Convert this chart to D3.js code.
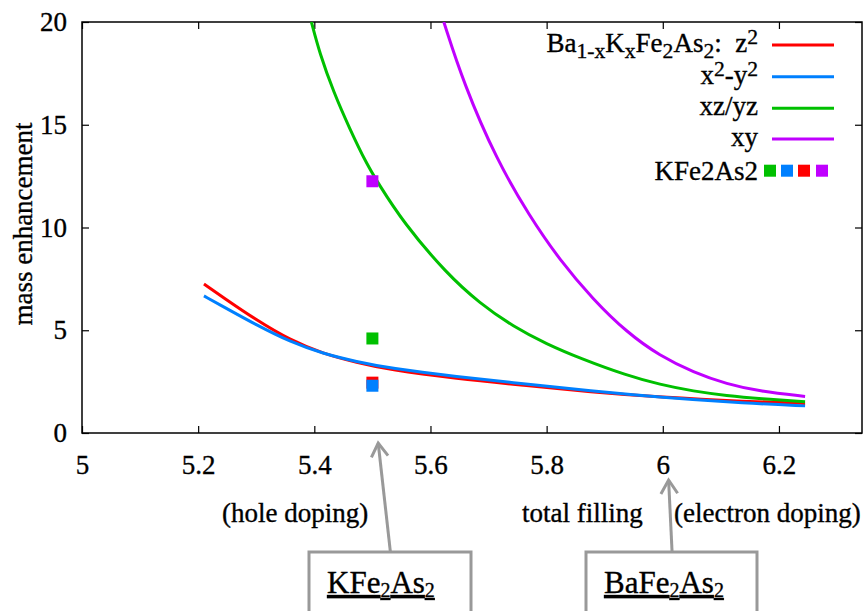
<!DOCTYPE html>
<html>
<head>
<meta charset="utf-8">
<script src="https://cdn.jsdelivr.net/npm/d3@7"></script>
<style>
  body { margin: 0; background: #fff; }
</style>
</head>
<body>
<svg id="chart" width="866" height="611"></svg>
<script>
// Axis ticks
const fillingTicks = [5, 5.2, 5.4, 5.6, 5.8, 6, 6.2];
const massTicks = [0, 5, 10, 15, 20];

// Ba(1-x)K(x)Fe2As2 orbital mass enhancement vs total filling
const fillingEg = [5.21, 5.243, 5.30, 5.358, 5.415, 5.473, 5.53, 5.645, 5.76, 5.875, 5.995, 6.145, 6.245];
const massZ2    = [7.25, 6.60, 5.50, 4.53, 3.86, 3.43, 3.07, 2.65, 2.32, 2.00, 1.74, 1.53, 1.44];
const massX2Y2  = [6.67, 6.15, 5.26, 4.44, 3.86, 3.47, 3.15, 2.74, 2.40, 2.05, 1.74, 1.45, 1.32];

const fillingXZ = [5.395, 5.409, 5.433, 5.461, 5.490, 5.509, 5.553, 5.628, 5.685, 5.743, 5.80, 5.858, 5.938, 5.995, 6.053, 6.11, 6.168, 6.245];
const massXZ    = [20, 18.5, 16.6, 14.8, 13.1, 12.2, 10.25, 7.75, 6.31, 5.17, 4.33, 3.63, 2.80, 2.36, 2.03, 1.82, 1.67, 1.52];

const fillingXY = [5.623, 5.657, 5.714, 5.771, 5.823, 5.880, 5.938, 5.995, 6.053, 6.110, 6.168, 6.245];
const massXY    = [20, 17.02, 13.28, 10.53, 8.4, 6.5, 4.9, 3.75, 2.95, 2.38, 2.02, 1.78];

// KFe2As2 (filling 5.5) per orbital, drawn in this order
const kfeFilling = 5.5;
const kfeOrbitals = ["xy", "xz/yz", "z2", "x2-y2"];
const kfeMass = [12.25, 4.6, 2.45, 2.3];

const orbitalColor = { "z2": "#ff0000", "x2-y2": "#0080ff", "xz/yz": "#00c000", "xy": "#c000ff" };

const SERIF = "'Liberation Serif', 'Tinos', 'Times New Roman', 'DejaVu Serif', serif";
const FS = 27;

const svg = d3.select("#chart");
const plot = { left: 82, right: 862, top: 22, bottom: 433 };

const x = d3.scaleLinear().domain([5, 6.343]).range([plot.left, plot.right]);
const y = d3.scaleLinear().domain([0, 20]).range([plot.bottom, plot.top]);

svg.append("defs").append("clipPath").attr("id", "plotClip")
  .append("rect")
  .attr("x", plot.left).attr("y", plot.top)
  .attr("width", plot.right - plot.left).attr("height", plot.bottom - plot.top);

function inkText(sel) {
  return sel.attr("fill", "#000").attr("stroke", "#000").attr("stroke-width", 0.35);
}

// Axes with inward ticks on all four sides
const fmt = d3.format("");
const bottomAxis = svg.append("g").attr("transform", `translate(0,${plot.bottom})`)
  .call(d3.axisBottom(x).tickValues(fillingTicks).tickFormat(fmt).tickSize(-7).tickPadding(22));
const topAxis = svg.append("g").attr("transform", `translate(0,${plot.top})`)
  .call(d3.axisTop(x).tickValues(fillingTicks).tickFormat("").tickSize(-7));
const leftAxis = svg.append("g").attr("transform", `translate(${plot.left},0)`)
  .call(d3.axisLeft(y).tickValues(massTicks).tickFormat(fmt).tickSize(-7).tickPadding(15));
const rightAxis = svg.append("g").attr("transform", `translate(${plot.right},0)`)
  .call(d3.axisRight(y).tickValues(massTicks).tickFormat("").tickSize(-7));

[bottomAxis, topAxis, leftAxis, rightAxis].forEach(g => {
  g.select(".domain").remove();
  g.attr("font-family", null).attr("font-size", null);
  g.selectAll(".tick line").attr("stroke", "#000").attr("stroke-width", 1.2);
  inkText(g.selectAll("text").style("font-family", SERIF).style("font-size", FS + "px"));
});

svg.append("rect")
  .attr("x", plot.left).attr("y", plot.top)
  .attr("width", plot.right - plot.left).attr("height", plot.bottom - plot.top)
  .attr("fill", "none").attr("stroke", "#000").attr("stroke-width", 1.5);

// Curves
const series = [
  { key: "z2",    xs: fillingEg, ys: massZ2 },
  { key: "x2-y2", xs: fillingEg, ys: massX2Y2 },
  { key: "xz/yz", xs: fillingXZ, ys: massXZ },
  { key: "xy",    xs: fillingXY, ys: massXY }
];
const line = d3.line().x(d => x(d[0])).y(d => y(d[1])).curve(d3.curveBasis);
const curves = svg.append("g").attr("clip-path", "url(#plotClip)");
series.forEach(s => {
  curves.append("path")
    .datum(s.xs.map((v, i) => [v, s.ys[i]]))
    .attr("d", line)
    .attr("fill", "none")
    .attr("stroke", orbitalColor[s.key])
    .attr("stroke-width", 3);
});

// KFe2As2 points
const sq = 12;
curves.selectAll("rect.kfe")
  .data(kfeOrbitals.map((o, i) => ({ o, v: kfeMass[i] })))
  .join("rect")
  .attr("class", "kfe")
  .attr("x", x(kfeFilling) - sq / 2)
  .attr("y", d => y(d.v) - sq / 2)
  .attr("width", sq).attr("height", sq)
  .attr("fill", d => orbitalColor[d.o]);

// Text helper: serif label
function label(parent, px, py, size, anchor) {
  return inkText(parent.append("text")
    .attr("x", px).attr("y", py)
    .attr("text-anchor", anchor || "start")
    .style("font-family", SERIF)
    .style("font-size", size + "px"));
}

function addRich(t, parts, size) {
  parts.forEach(p => {
    const s = t.append("tspan").text(p.t);
    if (p.sub) s.attr("baseline-shift", "-25%").style("font-size", (size * 0.8) + "px");
    if (p.sup) s.attr("baseline-shift", "35%").style("font-size", (size * 0.8) + "px");
  });
}

// Legend
const legend = svg.append("g");
const legendTextX = 758;
const legendLineX = [772, 834];
const legendRowY = [45, 76.7, 108.3, 139, 170.7];
const legendKeys = ["z2", "x2-y2", "xz/yz", "xy"];
const legendParts = [
  [{ t: "Ba" }, { t: "1-x", sub: true }, { t: "K" }, { t: "x", sub: true }, { t: "Fe" }, { t: "2", sub: true },
   { t: "As" }, { t: "2", sub: true }, { t: ":\u00a0\u00a0z" }, { t: "2", sup: true }],
  [{ t: "x" }, { t: "2", sup: true }, { t: "-y" }, { t: "2", sup: true }],
  [{ t: "xz/yz" }],
  [{ t: "xy" }]
];
legendKeys.forEach((k, i) => {
  const t = label(legend, legendTextX, legendRowY[i] + 7, FS, "end");
  addRich(t, legendParts[i], FS);
  legend.append("line")
    .attr("x1", legendLineX[0]).attr("x2", legendLineX[1])
    .attr("y1", legendRowY[i]).attr("y2", legendRowY[i])
    .attr("stroke", orbitalColor[k]).attr("stroke-width", 3);
});
label(legend, legendTextX, legendRowY[4] + 9, FS, "end").text("KFe2As2");
const legendSquareX = [770, 787, 804, 822];
["xz/yz", "x2-y2", "z2", "xy"].forEach((k, i) => {
  legend.append("rect")
    .attr("x", legendSquareX[i] - sq / 2).attr("y", legendRowY[4] - sq / 2)
    .attr("width", sq).attr("height", sq)
    .attr("fill", orbitalColor[k]);
});

// Axis title
label(svg, 0, 0, 27, "middle")
  .attr("transform", "translate(32,224) rotate(-90)")
  .text("mass enhancement");

// Doping annotations below the axis
label(svg, 222, 522, FS).text("(hole doping)");
label(svg, 522, 522, FS).text("total filling");
label(svg, 674, 522, FS).text("(electron doping)");

// Compound boxes with arrows pointing at their filling
const compounds = [
  { name: [{ t: "KFe" }, { t: "2", sub: true }, { t: "As" }, { t: "2", sub: true }],
    tip: 5.51, base: 5.531, tipY: 443, box: [309, 471] },
  { name: [{ t: "BaFe" }, { t: "2", sub: true }, { t: "As" }, { t: "2", sub: true }],
    tip: 6.01, base: 6.016, tipY: 480, box: [586, 757] }
];
const boxTop = 552;
compounds.forEach(c => {
  const g = svg.append("g");
  g.append("rect")
    .attr("x", c.box[0]).attr("y", boxTop)
    .attr("width", c.box[1] - c.box[0]).attr("height", 80)
    .attr("fill", "#fff").attr("stroke", "#999").attr("stroke-width", 3);
  const x0 = x(c.base), y0 = boxTop, x1 = x(c.tip), y1 = c.tipY;
  g.append("line").attr("x1", x0).attr("y1", y0).attr("x2", x1).attr("y2", y1)
    .attr("stroke", "#999").attr("stroke-width", 3);
  const ang = Math.atan2(y1 - y0, x1 - x0);
  const L = 16, spread = 0.55;
  const p1 = [x1 - L * Math.cos(ang - spread), y1 - L * Math.sin(ang - spread)];
  const p2 = [x1 - L * Math.cos(ang + spread), y1 - L * Math.sin(ang + spread)];
  g.append("path")
    .attr("d", `M${p1[0]},${p1[1]}L${x1},${y1}L${p2[0]},${p2[1]}`)
    .attr("fill", "none").attr("stroke", "#999").attr("stroke-width", 3)
    .attr("stroke-linejoin", "miter");
  const t = label(g, c.box[0] + 18, 593, 31, "start");
  c.name.forEach(p => {
    const s = t.append("tspan").text(p.t).style("text-decoration", "underline");
    if (p.sub) s.attr("baseline-shift", "-22%").style("font-size", "20px");
  });
});
</script>
</body>
</html>
